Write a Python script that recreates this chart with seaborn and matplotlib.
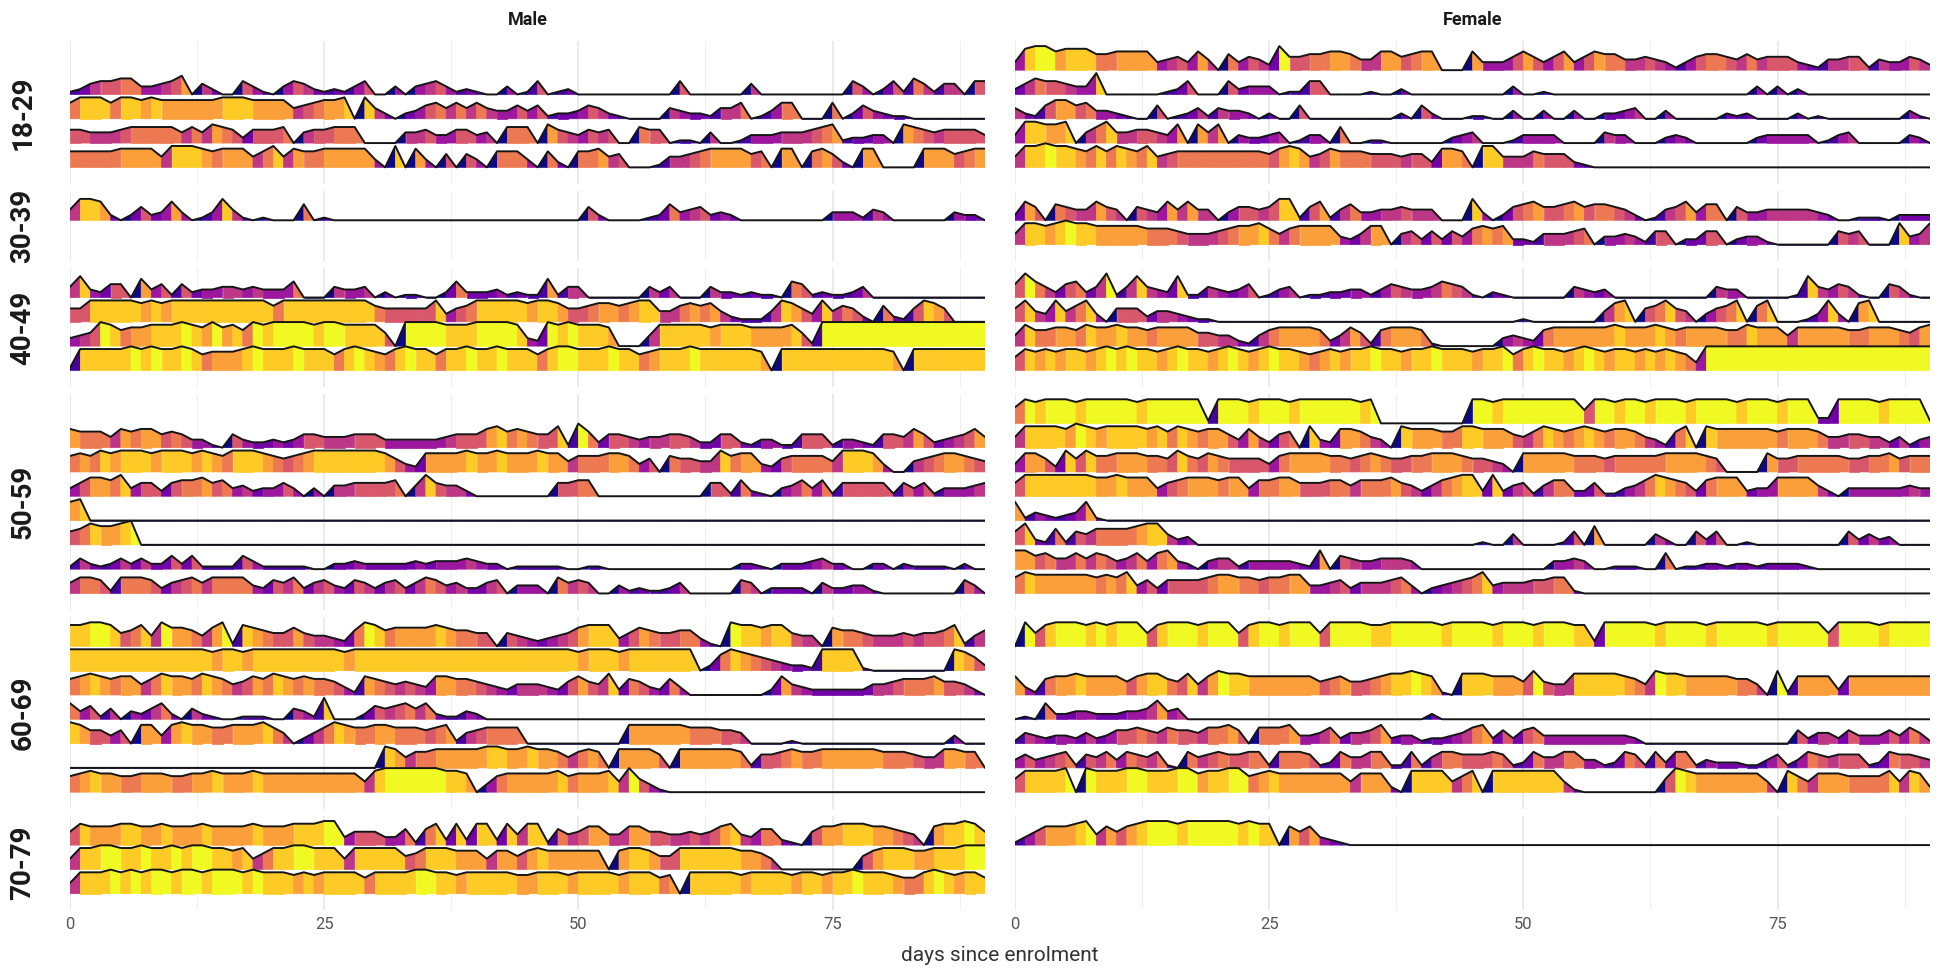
import numpy as np
import pandas as pd
import matplotlib
matplotlib.use("Agg")
import matplotlib.pyplot as plt
import seaborn as sns
from matplotlib.collections import PolyCollection

# ---------------- data ----------------
sexes = ["Male", "Female"]
age_groups = ["18-29", "30-39", "40-49", "50-59", "60-69", "70-79"]
row_slots = [5, 2, 4, 8, 7, 3]          # ridge positions per age-group row
days = np.arange(91)                    # days since enrolment 0..90
x_ticks = [0, 25, 50, 75]
x_minor = [12.5, 37.5, 62.5, 87.5]

# each string = one participant, one digit (0-9 score) per day
male_18_29_slots = [2, 3, 4, 5]
male_18_29 = [
    "1245566334" "5704200531" "0354212135" "0030345312" "1003015012" "0000000000" "5000000400" "0000000530" "2516414405" "5",
    "6888688787" "7777788877" "7745677808" "4202356464" "6433535122" "3542100004" "3221446013" "6600060253" "2110000000" "0",
    "5544456666" "6464765255" "5604556660" "0004453355" "3406660754" "3545006550" "1104001333" "4445671223" "3076545555" "3",
    "6666677774" "8887677746" "8476677777" "3080730505" "3066630620" "6674500014" "4567777560" "7706752077" "0000777567" "7",
]
male_30_39_slots = [1]
male_30_39 = [
    "4887202523" "7301384101" "0006010000" "0000000000" "0000000000" "0520000126" "3452320000" "0000033314" "3000000322" "0",
]
male_40_49_slots = [1, 2, 3, 4]
male_40_49 = [
    "4832550735" "1523344343" "3360004334" "0201100262" "2231211714" "4000000424" "0004221211" "0651211240" "0000000000" "0",
    "5588888787" "8888888888" "6888888888" "6555558356" "8888878875" "5677678844" "6767421114" "8753846520" "6215875000" "0",
    "3459867788" "8987978698" "9999899888" "8509999888" "9999832989" "8887000488" "8887888777" "7851999999" "9999999999" "9",
    "1888889898" "8986777898" "8898886898" "7689886889" "8898886899" "8889886788" "8988888870" "8888888888" "8708888888" "8",
]
male_50_59_slots = [2, 3, 4, 5, 6, 7, 8]
male_50_59 = [
    "7666476775" "6533105322" "3235544455" "5333333455" "5786765581" "9625543445" "5422552133" "1155513321" "5547523457" "4",
    "6768788878" "8878768887" "6567888888" "8753277778" "7787778774" "6667763506" "5544867732" "5666648887" "3004567765" "4",
    "3577683552" "5667563423" "3530304455" "5560485442" "0000000055" "6600000000" "0005516210" "3463615555" "5153513334" "5",
    "78",
    "56877890",
    "1421242422" "5251111531" "1111002232" "2222323334" "3220111110" "0110000000" "0000002210" "2223422002" "2021111020" "0",
    "4665166652" "4564666632" "5462453254" "2452465342" "2450333064" "5400312112" "4000005402" "2220422331" "0000000053" "0",
]
male_60_69_slots = [1, 2, 3, 4, 5, 6, 7]
male_60_69 = [
    "8899856849" "7764791876" "5575443269" "8677778766" "5505432345" "7888357655" "6631098878" "8544076654" "4454556814" "6",
    "8888888888" "8888788788" "8888888788" "8888888888" "8888888888" "7888788888" "8802687654" "3221888810" "0000000875" "2",
    "6787677468" "7768764576" "8767665317" "6545437766" "5432444325" "7548265326" "3000000002" "7432222224" "4566675542" "0",
    "6351403246" "2042100111" "0043180002" "5456462113" "2",
    "8755350773" "7877667778" "6402468766" "7766656714" "5666600000" "0000077777" "7666554000" "0100000000" "0000000300" "0",
    "0000000000" "0000000000" "0000000000" "0874667777" "7887787764" "6760777750" "7777776155" "6766777777" "6665447766" "0",
    "6787766777" "6677877787" "7777777774" "8999999887" "0367777786" "7778495310",
]
male_70_79_slots = [1, 2, 3]
male_70_79 = [
    "5877788778" "7778777787" "7788899355" "5336168282" "8828488164" "5774477554" "4545784366" "2105778887" "7654078898" "5",
    "4889988988" "9899887846" "8899888488" "8885688877" "7477578777" "7770788755" "8888887764" "0000000057" "8887788899" "9",
    "4888989899" "8998999898" "8878788886" "8888998878" "8888778887" "8888788867" "0888887888" "8788788988" "8766898788" "6",
]

female_18_29_slots = [1, 2, 3, 4, 5]
female_18_29 = [
    "3899788866" "7777345374" "0635429556" "6776447756" "7700073335" "7535735766" "4454313566" "5464555321" "4455143354" "2",
    "2465543380" "0000012500" "0523330115" "5000010020" "0000000003" "0010000000" "0000000000" "0003030200" "0000000000" "0",
    "4215775633" "2100501241" "4332020050" "0000000020" "5200011003" "0030030022" "3400300000" "2120000201" "0000000031" "0",
    "3887780468" "4455437074" "7032234013" "3060011000" "0002340001" "3333000043" "3000232000" "0002333330" "1340000032" "0",
    "4889887686" "8768456666" "6666657874" "5766655545" "5277608844" "4655521000",
]
female_30_39_slots = [1, 2]
female_30_39 = [
    "2750654475" "4054374744" "0355458815" "7146334454" "4400083025" "6755675665" "4201457366" "0533444443" "2001110222" "2",
    "4887898877" "7776665444" "5677864677" "7732477045" "2525367672" "2144456033" "4315502255" "0233100000" "0545000834" "8",
]
female_40_49_slots = [1, 2, 3, 4]
female_40_49 = [
    "5964256249" "1484328114" "3235013401" "1223313543" "3465410210" "0000043230" "0000000004" "3300000184" "3541005410" "0",
    "5843846830" "5552443211" "0000000000" "0000000000" "0000000000" "1000000047" "8056854035" "6806800013" "8307800000" "0",
    "4866776877" "8776777755" "4421467777" "6247516777" "6100000034" "3267777778" "7778767777" "6687774777" "7766777657" "8",
    "5878788789" "8988789887" "8987898876" "7878898878" "8988878896" "8988789878" "8787876399" "9999999999" "9999999999" "9",
]
female_50_59_slots = [1, 2, 3, 4, 5, 6, 7, 8]
female_50_59 = [
    "6989998999" "9989999991" "9998999899" "9999890000" "0000099899" "9999995998" "9989998999" "9899989992" "2999989999" "1",
    "4888879878" "8887868767" "7537425608" "3277643087" "7766887775" "4687678767" "7643168087" "7777767776" "4455442413" "4",
    "3775285866" "7776658657" "6555536777" "7665676556" "6777655430" "7777766656" "6666777765" "0000755666" "6655667566" "6",
    "5888888877" "8777356777" "6773667755" "5664666754" "2467882824" "5146622511" "3468765267" "7723377774" "2033333343" "3",
    "7132123710",
    "5821615466" "6678842300" "0000000000" "0000000000" "0000001004" "0000150700" "0004200525" "0010000000" "0052423000" "0",
    "7756446465" "3463673203" "4413333321" "7054334443" "0000000000" "0003343001" "1100601122" "1221222210",
    "6877777767" "6835255556" "7766566773" "3452444563" "0234568344" "4556610000",
]
female_60_69_slots = [1, 3, 4, 5, 6, 7]
female_60_69 = [
    "0958999898" "9995899989" "9958998999" "5999988999" "9989999899" "9899988299" "9998999989" "9999899999" "5999989999" "9",
    "7316778777" "7578865847" "9887777777" "5675567889" "8710888777" "5954488888" "7649887777" "7664091777" "7277777777" "7",
    "0106223322" "2334734000" "0000000000" "0000000000" "02",
    "1432332423" "5565465546" "6750666733" "4624457233" "1223467252" "5633333333" "3200000000" "0000000524" "4253335364" "1",
    "3534561546" "3654610645" "6556616665" "1264466116" "1466555651" "2644663312" "6516266132" "2211351365" "4555126554" "3",
    "5888890988" "8998889978" "8996787777" "7774777208" "8884680888" "8888410000" "0000598777" "7777408647" "7766668487" "2",
]
female_70_79_slots = [1]
female_70_79 = [
    "1357778947" "5789998999" "9989880757" "3210",
]

male_rows = [male_18_29, male_30_39, male_40_49, male_50_59, male_60_69, male_70_79]
male_row_slots = [male_18_29_slots, male_30_39_slots, male_40_49_slots,
                  male_50_59_slots, male_60_69_slots, male_70_79_slots]
female_rows = [female_18_29, female_30_39, female_40_49, female_50_59, female_60_69, female_70_79]
female_row_slots = [female_18_29_slots, female_30_39_slots, female_40_49_slots,
                    female_50_59_slots, female_60_69_slots, female_70_79_slots]


def decode(s):
    s = s.ljust(len(days), "0")[:len(days)]
    return np.array([int(c) for c in s], dtype=float)


# ---------------- style ----------------
sns.set_theme(style="white")
plt.rcParams["font.family"] = ["Roboto", "DejaVu Sans"]

W, H = 1937, 971
fig = plt.figure(figsize=(W / 100, H / 100), dpi=100)
fig.patch.set_facecolor("white")

cmap = plt.get_cmap("plasma")
VMAX = 9.0
HSTEP = 0.11          # ridge height per score unit (in slot units)

top_px = 41.0
slot_px = 24.3
below, above = 0.69, 1.2
gap_px = 7.0
col_left = [70.0, 1015.0]
col_width = 915.0


def draw_ridge(ax, vals, base, z):
    h = vals * HSTEP
    top = base + h
    polys, cols = [], []
    for i in range(len(days) - 1):
        polys.append([(days[i], base), (days[i], top[i]),
                      (days[i + 1], top[i + 1]), (days[i + 1], base)])
        cols.append(cmap(vals[i] / VMAX))
    pc = PolyCollection(polys, facecolors=cols, edgecolors=cols,
                        linewidths=0.5, zorder=z)
    ax.add_collection(pc)
    df = pd.DataFrame({"day": days, "y": top})
    sns.lineplot(data=df, x="day", y="y", ax=ax, color="#151515",
                 linewidth=1.4, estimator=None, zorder=z + 0.5)


y_px = top_px
for r, (age, n) in enumerate(zip(age_groups, row_slots)):
    h_px = (n - 1 + below + above) * slot_px
    for c, sex in enumerate(sexes):
        ax = fig.add_axes([col_left[c] / W, 1 - (y_px + h_px) / H,
                           col_width / W, h_px / H])
        series = (male_rows if c == 0 else female_rows)[r]
        slots = (male_row_slots if c == 0 else female_row_slots)[r]
        order = sorted(zip(slots, series), key=lambda t: t[0])
        for k, (slot, s) in enumerate(order):
            base = n - slot
            draw_ridge(ax, decode(s), base, z=2 + 2 * k)

        ax.set_xlim(0, 90)
        ax.set_ylim(-below, n - 1 + above)
        for sp in ax.spines.values():
            sp.set_visible(False)
        ax.set_yticks([])
        ax.set_xticks(x_ticks)
        ax.set_xticks(x_minor, minor=True)
        ax.grid(axis="x", which="major", color="#e6e6e6", linewidth=1.1)
        ax.grid(axis="x", which="minor", color="#f0f0f0", linewidth=0.7)
        ax.grid(axis="y", visible=False)
        ax.set_axisbelow(True)
        ax.tick_params(axis="both", which="both", length=0)
        if r == len(age_groups) - 1:
            ax.set_xticklabels([str(t) for t in x_ticks], color="#555555", fontsize=12)
            ax.tick_params(axis="x", pad=5)
        else:
            ax.set_xticklabels([])
        ax.set_xlabel("")
        ax.set_ylabel("")

        if r == 0:
            fig.text((col_left[c] + col_width / 2) / W, 1 - 20 / H, sex,
                     ha="center", va="center", fontsize=13, fontweight="bold",
                     color="#1a1a1a")
    fig.text(23 / W, 1 - (y_px + h_px / 2) / H, age, rotation=90,
             ha="center", va="center", fontsize=20, fontweight="bold",
             color="#1a1a1a")
    y_px += h_px + gap_px

fig.text(1000 / W, 1 - 955 / H, "days since enrolment", ha="center",
         va="center", fontsize=15, color="#333333")

fig.savefig("out.png", dpi=100, facecolor="white")
